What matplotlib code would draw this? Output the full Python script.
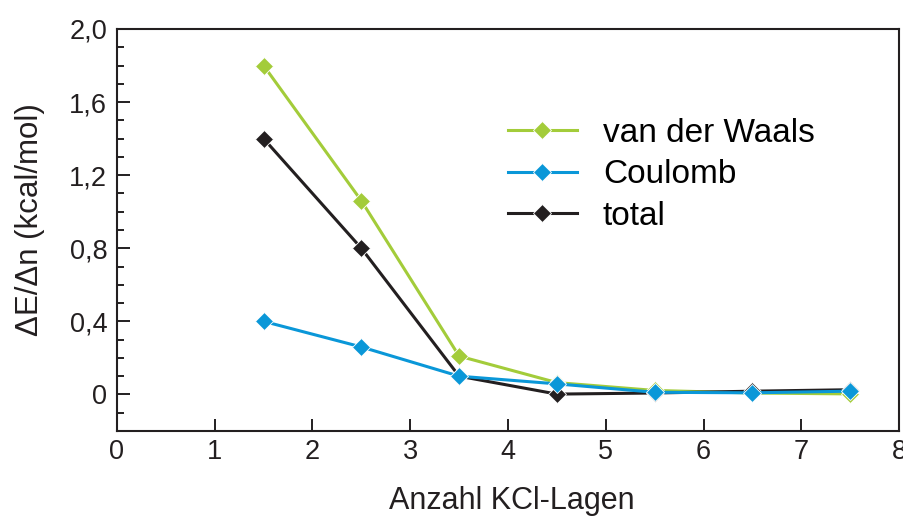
import matplotlib
matplotlib.use('Agg')
import matplotlib.pyplot as plt
from matplotlib.ticker import MultipleLocator

plt.rcParams['font.family'] = ['Liberation Sans', 'DejaVu Sans']

# Energy per added layer vs. number of KCl layers
layers = [1.5, 2.5, 3.5, 4.5, 5.5, 6.5, 7.5]
vdw = [1.80, 1.06, 0.21, 0.065, 0.022, 0.008, 0.003]
coulomb = [0.40, 0.26, 0.10, 0.058, 0.012, 0.009, 0.018]
total = [1.40, 0.80, 0.10, 0.002, 0.008, 0.018, 0.026]

y_ticks = [0, 0.4, 0.8, 1.2, 1.6, 2.0]
y_ticklabels = ['0', '0,4', '0,8', '1,2', '1,6', '2,0']

green = '#a3cc3a'
blue = '#0a97d8'
black = '#231f20'

fig = plt.figure(figsize=(9.04, 5.16), dpi=100)
ax = fig.add_axes([0.1294, 0.1647, 0.8651, 0.7791])

style = dict(lw=2.2, marker='D', markersize=9.5, markeredgecolor='white',
             markeredgewidth=0.6)
l1, = ax.plot(layers, vdw, color=green, zorder=2, **style)
l3, = ax.plot(layers, total, color=black, zorder=3, **style)
l2, = ax.plot(layers, coulomb, color=blue, zorder=4, **style)

ax.set_xlim(0, 8)
ax.set_ylim(-0.2, 2.0)
ax.set_xticks(range(0, 9))
ax.set_yticks(y_ticks)
ax.set_yticklabels(y_ticklabels)
ax.yaxis.set_minor_locator(MultipleLocator(0.1))

ax.tick_params(axis='both', which='major', direction='in', length=9, width=1.4,
               labelsize=19.5, colors=black, pad=7)
ax.tick_params(axis='x', which='major', pad=6)
ax.tick_params(axis='y', which='minor', direction='in', length=5, width=1.4,
               colors=black)
for s in ax.spines.values():
    s.set_linewidth(1.5)
    s.set_color(black)

ax.set_xlabel('Anzahl KCl-Lagen', fontsize=22, color=black, va='baseline')
ax.xaxis.set_label_coords(0.5045, -0.194)
ax.set_ylabel('ΔE/Δn (kcal/mol)', fontsize=22.5, color=black, va='center')
ax.yaxis.set_label_coords(-0.111, 0.527)

leg = ax.legend([l1, l2, l3], ['van der Waals', 'Coulomb', 'total'],
                loc='upper left', bbox_to_anchor=(508 / 904, 1 - 118 / 516),
                bbox_transform=fig.transFigure, frameon=False, fontsize=24,
                handlelength=2.07, handletextpad=0.78, labelspacing=0.31,
                borderpad=0, borderaxespad=0)

fig.savefig('out.png', dpi=100, facecolor='white')
